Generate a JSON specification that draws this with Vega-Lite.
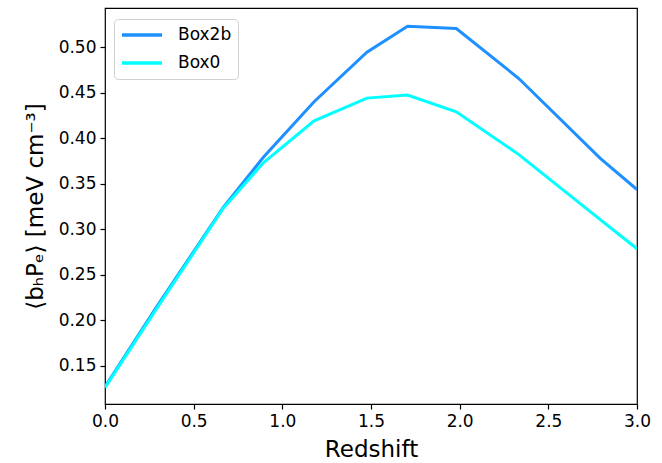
{
  "$schema": "https://vega.github.io/schema/vega-lite/v6.json",
  "autosize": {"type": "none"},
  "padding": {"left": 105, "top": 8, "right": 25, "bottom": 59},
  "width": 532,
  "height": 396,
  "background": "white",
  "config": {
    "font": "DejaVu Sans",
    "view": {"stroke": "black", "strokeWidth": 1.2},
    "axis": {"grid": false, "domain": false, "labelFlush": false, "tickColor": "black", "tickSize": 5, "tickWidth": 1.2, "labelColor": "black", "labelFontSize": 17, "titleFontSize": 23, "titleFontWeight": "normal", "titleColor": "black", "labelPadding": 4}
  },
  "data": {"values": [
    {"z": 0.0, "v": 0.127, "s": "Box2b"},
    {"z": 0.292, "v": 0.215, "s": "Box2b"},
    {"z": 0.667, "v": 0.324, "s": "Box2b"},
    {"z": 0.893, "v": 0.379, "s": "Box2b"},
    {"z": 1.179, "v": 0.440, "s": "Box2b"},
    {"z": 1.477, "v": 0.4945, "s": "Box2b"},
    {"z": 1.706, "v": 0.523, "s": "Box2b"},
    {"z": 1.981, "v": 0.5205, "s": "Box2b"},
    {"z": 2.332, "v": 0.4658, "s": "Box2b"},
    {"z": 2.793, "v": 0.3778, "s": "Box2b"},
    {"z": 3.0, "v": 0.3436, "s": "Box2b"},
    {"z": 0.0, "v": 0.126, "s": "Box0"},
    {"z": 0.292, "v": 0.213, "s": "Box0"},
    {"z": 0.667, "v": 0.323, "s": "Box0"},
    {"z": 0.893, "v": 0.373, "s": "Box0"},
    {"z": 1.179, "v": 0.419, "s": "Box0"},
    {"z": 1.477, "v": 0.444, "s": "Box0"},
    {"z": 1.706, "v": 0.4473, "s": "Box0"},
    {"z": 1.981, "v": 0.4289, "s": "Box0"},
    {"z": 2.332, "v": 0.3822, "s": "Box0"},
    {"z": 2.793, "v": 0.3106, "s": "Box0"},
    {"z": 3.0, "v": 0.2785, "s": "Box0"}
  ]},
  "mark": {"type": "line", "strokeWidth": 3, "clip": true},
  "encoding": {
    "x": {"field": "z", "type": "quantitative", "scale": {"domain": [0, 3], "nice": false, "zero": false},
      "axis": {"title": "Redshift", "values": [0, 0.5, 1, 1.5, 2, 2.5, 3], "format": ".1f", "titlePadding": 9}},
    "y": {"field": "v", "type": "quantitative", "scale": {"domain": [0.108, 0.543], "nice": false, "zero": false},
      "axis": {"title": "⟨bₕPₑ⟩ [meV cm⁻³]", "values": [0.15, 0.2, 0.25, 0.3, 0.35, 0.4, 0.45, 0.5], "format": ".2f", "titlePadding": 11}},
    "color": {"field": "s", "type": "nominal", "sort": ["Box2b", "Box0"],
      "scale": {"domain": ["Box2b", "Box0"], "range": ["#1e90ff", "#00ffff"]},
      "legend": {"title": null, "orient": "none", "legendX": 9, "legendY": 11, "symbolType": "stroke", "symbolSize": 1600, "symbolStrokeWidth": 3.3, "labelFontSize": 17, "labelColor": "black", "clipHeight": 20, "rowPadding": 8, "padding": 6, "fillColor": "white", "strokeColor": "#d0d0d0", "cornerRadius": 4, "labelOffset": 14}},
    "order": {"field": "s"}
  }
}
